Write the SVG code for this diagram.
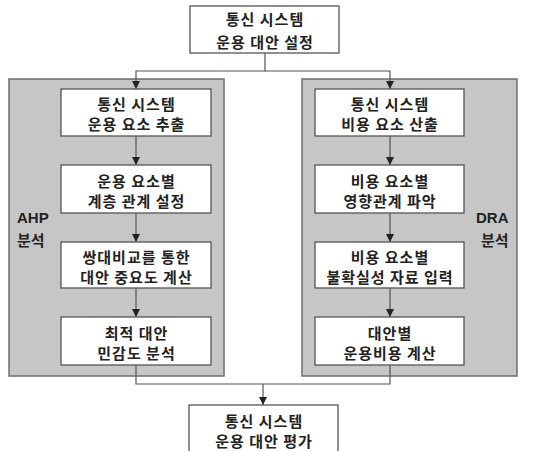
<svg xmlns="http://www.w3.org/2000/svg" width="544" height="451" viewBox="0 0 544 451">
<defs>
<style>
.panel{fill:#c6c6c6;stroke:#6e6e6e;stroke-width:1.5}
.box{fill:#fff;stroke:#555;stroke-width:1.3}
.t{font-family:"Noto Sans CJK KR","Noto Sans",sans-serif;font-weight:bold;font-size:15px;letter-spacing:1px;fill:#222;text-anchor:middle}
.lbl{font-family:"Liberation Sans","Noto Sans CJK KR",sans-serif;font-weight:bold;font-size:15px;fill:#222}
.ln{fill:none;stroke:#555;stroke-width:1.2}
</style>
<marker id="ah" viewBox="0 0 10 10" refX="10" refY="5" markerWidth="8" markerHeight="8" markerUnits="userSpaceOnUse" orient="auto">
<path d="M0,0 L10,5 L0,10 Z" fill="#222"/>
</marker>
</defs>
<rect width="544" height="451" fill="#fff"/>
<g id="panel-ahp">
<rect class="panel" x="9" y="79" width="215" height="297"/>
<text class="lbl" x="17" y="223">AHP</text>
<text class="lbl" x="17" y="246" style="font-family:'Noto Sans CJK KR',sans-serif">분석</text>
</g>
<g id="panel-dra">
<rect class="panel" x="302" y="79" width="215" height="297"/>
<text class="lbl" x="476" y="223">DRA</text>
<text class="lbl" x="481" y="246" style="font-family:'Noto Sans CJK KR',sans-serif">분석</text>
</g>
<g id="connectors">
<path class="ln" d="M265,53 V71 H136 V89" marker-end="url(#ah)"/>
<path class="ln" d="M265,71 H390 V89" marker-end="url(#ah)"/>
<path class="ln" d="M136,136 V165" marker-end="url(#ah)"/>
<path class="ln" d="M136,213 V242" marker-end="url(#ah)"/>
<path class="ln" d="M136,288 V317" marker-end="url(#ah)"/>
<path class="ln" d="M390,136 V165" marker-end="url(#ah)"/>
<path class="ln" d="M390,213 V242" marker-end="url(#ah)"/>
<path class="ln" d="M390,288 V317" marker-end="url(#ah)"/>
<path class="ln" d="M136,365 V384 H390 V365"/>
<path class="ln" d="M263,384 V405" marker-end="url(#ah)"/>
</g>
<g id="top">
<rect class="box" x="190" y="6" width="149" height="47"/>
<text class="t" x="265" y="25">통신 시스템</text>
<text class="t" x="265" y="48">운용 대안 설정</text>
</g>
<g id="a1">
<rect class="box" x="61" y="89" width="150" height="47"/>
<text class="t" x="136.5" y="110">통신 시스템</text>
<text class="t" x="136.5" y="130">운용 요소 추출</text>
</g>
<g id="a2">
<rect class="box" x="61" y="165" width="150" height="48"/>
<text class="t" x="136.5" y="187">운용 요소별</text>
<text class="t" x="136.5" y="207">계층 관계 설정</text>
</g>
<g id="a3">
<rect class="box" x="61" y="242" width="150" height="46"/>
<text class="t" x="136.5" y="263">쌍대비교를 통한</text>
<text class="t" x="136.5" y="283">대안 중요도 계산</text>
</g>
<g id="a4">
<rect class="box" x="61" y="317" width="150" height="48"/>
<text class="t" x="136.5" y="339">최적 대안</text>
<text class="t" x="136.5" y="359">민감도 분석</text>
</g>
<g id="d1">
<rect class="box" x="315" y="89" width="149" height="47"/>
<text class="t" x="390" y="110">통신 시스템</text>
<text class="t" x="390" y="130">비용 요소 산출</text>
</g>
<g id="d2">
<rect class="box" x="315" y="165" width="149" height="48"/>
<text class="t" x="390" y="187">비용 요소별</text>
<text class="t" x="390" y="207">영향관계 파악</text>
</g>
<g id="d3">
<rect class="box" x="315" y="242" width="149" height="46"/>
<text class="t" x="390" y="263">비용 요소별</text>
<text class="t" x="390" y="283">불확실성 자료 입력</text>
</g>
<g id="d4">
<rect class="box" x="315" y="317" width="149" height="48"/>
<text class="t" x="390" y="339">대안별</text>
<text class="t" x="390" y="359">운용비용 계산</text>
</g>
<g id="bottom">
<rect class="box" x="189" y="405" width="149" height="52"/>
<text class="t" x="264" y="427">통신 시스템</text>
<text class="t" x="264" y="447">운용 대안 평가</text>
</g>
</svg>
